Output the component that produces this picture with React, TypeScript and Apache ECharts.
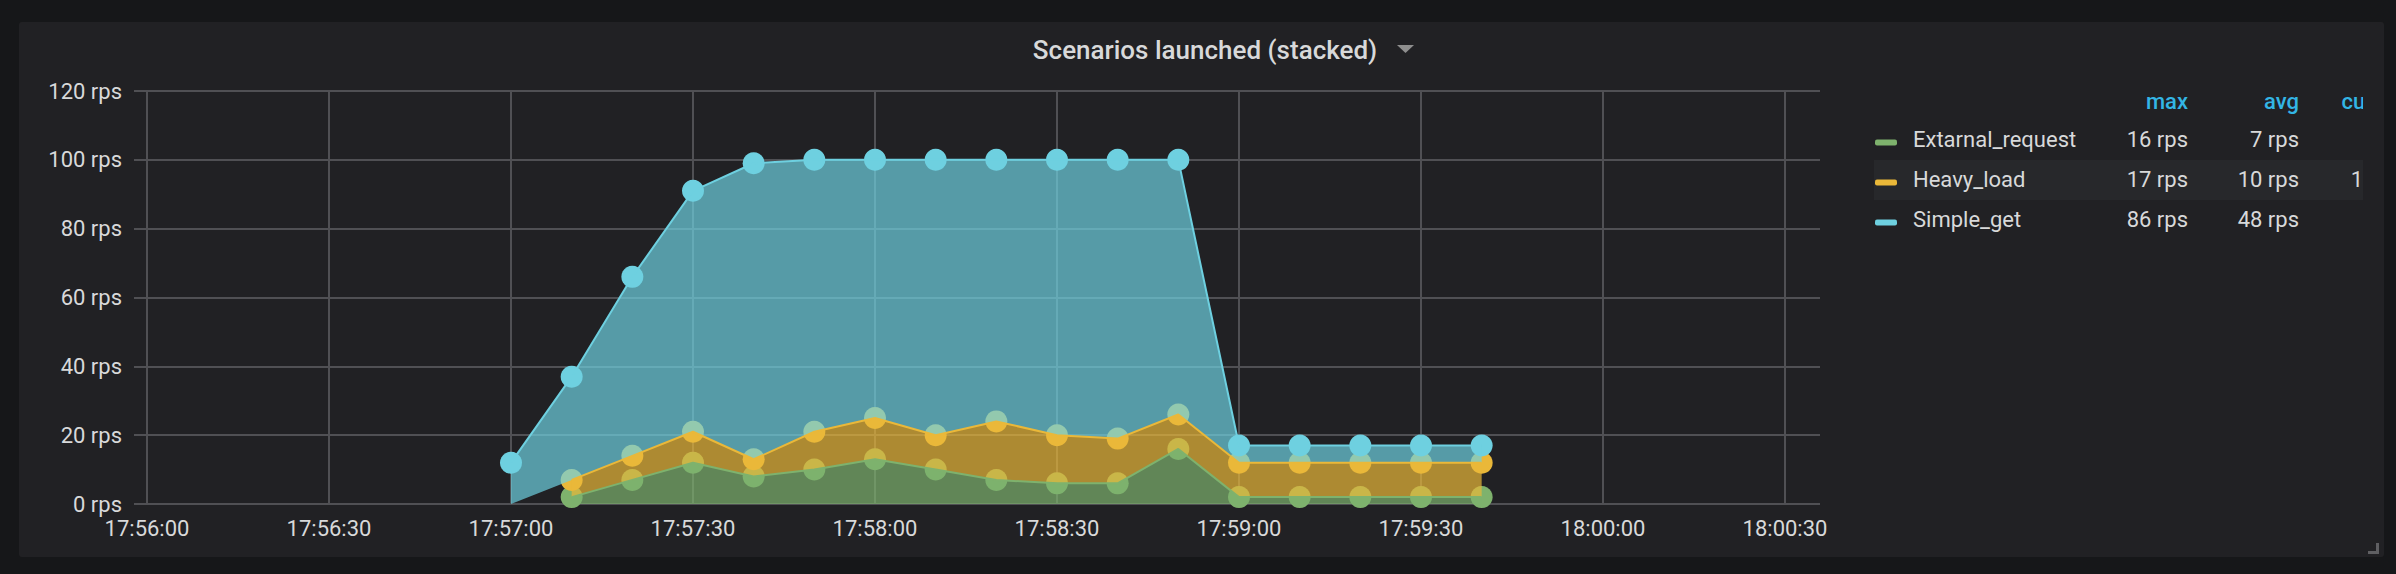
import React, { useEffect, useRef } from 'react';
import * as echarts from 'echarts';

// ---- data ----
const times = [
  '17:57:00', '17:57:10', '17:57:20', '17:57:30', '17:57:40', '17:57:50',
  '17:58:00', '17:58:10', '17:58:20', '17:58:30', '17:58:40', '17:58:50',
  '17:59:00', '17:59:10', '17:59:20', '17:59:30', '17:59:40',
];
const extarnalRequest: (number | null)[] = [null, 2, 7, 12, 8, 10, 13, 10, 7, 6, 6, 16, 2, 2, 2, 2, 2];
const heavyLoad: (number | null)[] = [null, 5, 7, 9, 5, 11, 12, 10, 17, 14, 13, 10, 10, 10, 10, 10, 10];
const simpleGet: (number | null)[] = [12, 30, 52, 70, 86, 79, 75, 80, 76, 80, 81, 74, 5, 5, 5, 5, 5];

const seriesNames = ['Extarnal_request', 'Heavy_load', 'Simple_get'];
const seriesColors = ['#7eb26d', '#eab839', '#6ed0e0'];
const seriesValues = [extarnalRequest, heavyLoad, simpleGet];

// x axis: 10 s slots from start to end, a label / grid line every 30 s
const xAxisStart = '17:56:00';
const xAxisEnd = '18:00:30';
const xSlotSec = 10;
const xLabelEvery = 3;
const yMax = 120;
const yStep = 20;
const unit = 'rps';
const legendColumns = ['max', 'avg', 'current'];
const title = 'Scenarios launched (stacked)';

// ---- helpers ----
const toSec = (t: string) => {
  const [h, m, s] = t.split(':').map(Number);
  return h * 3600 + m * 60 + s;
};
const pad = (n: number) => String(n).padStart(2, '0');
const fmtSec = (v: number) => {
  const h = Math.floor(v / 3600);
  const m = Math.floor((v % 3600) / 60);
  const s = Math.round(v % 60);
  return `${pad(h)}:${pad(m)}:${pad(s)}`;
};
const buildSlots = () => {
  const out: string[] = [];
  for (let t = toSec(xAxisStart); t <= toSec(xAxisEnd); t += xSlotSec) out.push(fmtSec(t));
  return out;
};
const stats = (arr: (number | null)[]) => {
  const vals = arr.filter((v): v is number => v != null);
  const max = Math.max(...vals);
  const avg = vals.reduce((a, b) => a + b, 0) / vals.length;
  const cur = vals[vals.length - 1];
  return [max, avg, cur].map((v) => `${Math.round(v)} ${unit}`);
};

const TEXT = '#d8d9da';
const GRID = '#505054';
const FONT = 'Roboto';

export default function App() {
  const ref = useRef<HTMLDivElement>(null);

  useEffect(() => {
    if (!ref.current) return;
    const chart = echarts.init(ref.current, undefined, { renderer: 'svg' });

    const slots = buildSlots();
    const mkData = (vals: (number | null)[]) =>
      slots.map((c) => {
        const i = times.indexOf(c);
        return i >= 0 && vals[i] != null ? vals[i] : '-';
      });

    const pointSeries = seriesValues.map((vals, i) => ({
      type: 'line',
      name: seriesNames[i] + ' points',
      xAxisIndex: 1,
      yAxisIndex: 1,
      stack: 'points',
      z: 2,
      data: mkData(vals),
      symbol: 'circle',
      symbolSize: 22,
      showSymbol: true,
      showAllSymbol: true,
      itemStyle: { color: seriesColors[i], borderWidth: 0 },
      lineStyle: { width: 0, opacity: 0 },
      silent: true,
    }));

    const areaSeries = seriesValues.map((vals, i) => ({
      type: 'line',
      name: seriesNames[i],
      xAxisIndex: 1,
      yAxisIndex: 1,
      stack: 'areas',
      z: 3,
      data: mkData(vals),
      showSymbol: false,
      symbol: 'none',
      lineStyle: { width: 2, color: seriesColors[i] },
      itemStyle: { color: seriesColors[i] },
      areaStyle: { color: seriesColors[i], opacity: 0.7 },
      silent: true,
    }));

    const legendX = 1875;
    const nameX = 1913;
    const colRight = [2188, 2299, 2412];
    const headerY = 101;
    const rowY = [139, 179, 219];

    const graphic: any[] = [
      {
        type: 'text',
        x: 1205,
        y: 50,
        style: {
          text: title,
          fill: TEXT,
          fontSize: 26,
          fontWeight: 500,
          fontFamily: FONT,
          align: 'center',
          verticalAlign: 'middle',
        },
      },
      {
        type: 'polygon',
        shape: { points: [[1397, 45], [1414, 45], [1405.5, 53]] },
        style: { fill: '#8e8e8e' },
      },
      {
        type: 'rect',
        shape: { x: 1874, y: 160, width: 520, height: 40 },
        style: { fill: '#27282b' },
        z: 0,
      },
    ];

    legendColumns.forEach((c, j) => {
      graphic.push({
        type: 'text',
        x: colRight[j],
        y: headerY,
        style: {
          text: c,
          fill: '#33b5e5',
          fontSize: 22,
          fontWeight: 500,
          fontFamily: FONT,
          align: 'right',
          verticalAlign: 'middle',
        },
      });
    });

    seriesNames.forEach((name, i) => {
      const y = rowY[i];
      graphic.push({
        type: 'rect',
        shape: { x: legendX, y: y + 0.5, width: 22, height: 6, r: 2 },
        style: { fill: seriesColors[i] },
      });
      graphic.push({
        type: 'text',
        x: nameX,
        y,
        style: {
          text: name,
          fill: TEXT,
          fontSize: 22,
          fontFamily: FONT,
          align: 'left',
          verticalAlign: 'middle',
        },
      });
      stats(seriesValues[i]).forEach((v, j) => {
        graphic.push({
          type: 'text',
          x: colRight[j],
          y,
          style: {
            text: v,
            fill: TEXT,
            fontSize: 22,
            fontFamily: FONT,
            align: 'right',
            verticalAlign: 'middle',
          },
        });
      });
    });

    const option: any = {
      animation: false,
      backgroundColor: 'transparent',
      textStyle: { fontFamily: FONT },
      grid: [
        { left: 134, top: 91, width: 1686, height: 413 },
        { left: 147, top: 91, width: 1638, height: 413 },
      ],
      xAxis: [
        { type: 'value', gridIndex: 0, min: 0, max: 1, show: false },
        {
          type: 'category',
          gridIndex: 1,
          data: slots,
          boundaryGap: false,
          axisLine: { show: false },
          axisTick: { show: false },
          splitLine: { show: true, interval: xLabelEvery - 1, lineStyle: { color: GRID, width: 2 } },
          axisLabel: {
            interval: xLabelEvery - 1,
            color: TEXT,
            fontSize: 22,
            fontFamily: FONT,
            margin: 13,
          },
        },
      ],
      yAxis: [
        {
          type: 'value',
          gridIndex: 0,
          min: 0,
          max: yMax,
          interval: yStep,
          axisLine: { show: false },
          axisTick: { show: false },
          splitLine: { show: true, lineStyle: { color: GRID, width: 2 } },
          axisLabel: {
            formatter: `{value} ${unit}`,
            color: TEXT,
            fontSize: 22,
            fontFamily: FONT,
            margin: 12,
          },
        },
        { type: 'value', gridIndex: 1, min: 0, max: yMax, show: false },
      ],
      series: [...pointSeries, ...areaSeries],
      graphic,
    };

    chart.setOption(option);
    return () => chart.dispose();
  }, []);

  return (
    <div
      style={{
        position: 'fixed',
        left: 0,
        top: 0,
        width: 2396,
        height: 574,
        background: '#161719',
        overflow: 'hidden',
      }}
    >
      <div
        style={{
          position: 'absolute',
          left: 19,
          top: 22,
          width: 2365,
          height: 535,
          background: '#212124',
          borderRadius: 3,
        }}
      />
      <div
        style={{
          position: 'absolute',
          left: 2368,
          top: 543,
          width: 8,
          height: 8,
          borderRight: '3px solid #5f5f62',
          borderBottom: '3px solid #5f5f62',
        }}
      />
      <div
        ref={ref}
        style={{ position: 'absolute', left: 0, top: 0, width: 2363, height: 574, overflow: 'hidden' }}
      />
    </div>
  );
}
